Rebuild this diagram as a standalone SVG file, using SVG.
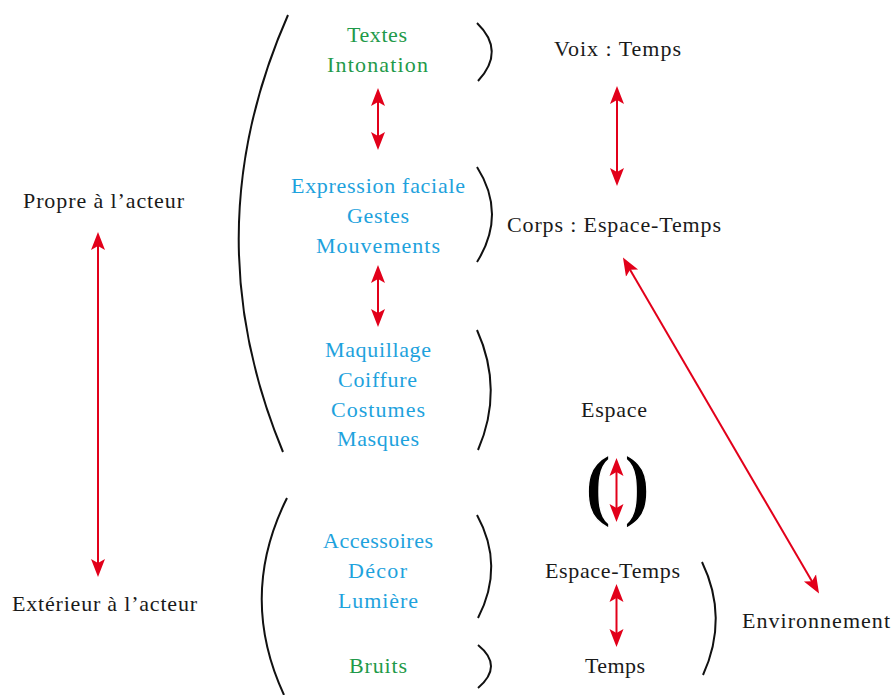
<svg xmlns="http://www.w3.org/2000/svg" width="893" height="695" viewBox="0 0 893 695">
<style>
text{font-family:"Liberation Serif","Times New Roman",serif;font-size:22px;text-anchor:middle;fill:#1a1a1a}
.g{fill:#1f9a4a}
.b{fill:#1ea2dd}
.br{fill:none;stroke:#111;stroke-width:2}
.ar{fill:none;stroke:#e2001a;stroke-width:2;marker-start:url(#ah);marker-end:url(#ah)}
.par{font-weight:bold;font-size:80px;fill:#000;stroke:#fff;stroke-width:1.2}
</style>
<defs>
<marker id="ah" markerUnits="userSpaceOnUse" markerWidth="20" markerHeight="16" viewBox="0 0 20 16" refX="10" refY="8" orient="auto-start-reverse">
<path d="M0,1 L18,8 L0,15 L4,8 z" fill="#e2001a"/>
</marker>
</defs>
<rect width="893" height="695" fill="#fff"/>

<g id="brackets">
<path class="br" d="M288,15 Q192,233 283,452"/>
<path class="br" d="M287,498 Q238,596 284,695"/>
<path class="br" d="M477,23 Q506,51 478,81"/>
<path class="br" d="M477,167 Q507,214 477,262"/>
<path class="br" d="M477,330 Q504,390 478,450"/>
<path class="br" d="M477,515 Q505,566 478,618"/>
<path class="br" d="M478,645 Q504,666 478,688"/>
<path class="br" d="M702,562 Q729,618 703,675"/>
</g>

<g id="n-textes"><text class="g" x="377" y="42" textLength="60">Textes</text><text class="g" x="377.5" y="72" textLength="101">Intonation</text></g>
<g id="n-expression"><text class="b" x="378" y="193" textLength="174">Expression faciale</text><text class="b" x="378" y="223" textLength="62">Gestes</text><text class="b" x="378" y="253" textLength="124">Mouvements</text></g>
<g id="n-maquillage"><text class="b" x="378" y="357" textLength="106">Maquillage</text><text class="b" x="377.5" y="387" textLength="79">Coiffure</text><text class="b" x="378" y="417" textLength="94">Costumes</text><text class="b" x="378" y="446" textLength="82">Masques</text></g>
<g id="n-accessoires"><text class="b" x="378" y="548" textLength="110">Accessoires</text><text class="b" x="377.5" y="578" textLength="59">Décor</text><text class="b" x="378" y="608" textLength="80">Lumière</text></g>
<g id="n-bruits"><text class="g" x="378" y="673" textLength="58">Bruits</text></g>
<g id="n-voix"><text x="617.5" y="56" textLength="127">Voix : Temps</text></g>
<g id="n-corps"><text x="614" y="232" textLength="214">Corps : Espace-Temps</text></g>
<g id="n-propre"><text x="103.5" y="208" textLength="161">Propre à l’acteur</text></g>
<g id="n-exterieur"><text x="104.5" y="611" textLength="185">Extérieur à l’acteur</text></g>
<g id="n-espace"><text x="614" y="417" textLength="66">Espace</text></g>
<g id="n-espacetemps"><text x="612.5" y="578" textLength="135">Espace-Temps</text></g>
<g id="n-temps"><text x="615" y="673" textLength="60">Temps</text></g>
<g id="n-env"><text x="816" y="628" textLength="148">Environnement</text></g>
<g id="n-parens"><text class="par" x="598" y="511">(</text><text class="par" x="637" y="511">)</text></g>

<g id="connectors">
<line class="ar" x1="378" y1="96" x2="378" y2="142"/>
<line class="ar" x1="378" y1="273" x2="378" y2="319"/>
<line class="ar" x1="617" y1="94" x2="617" y2="178"/>
<line class="ar" x1="98" y1="240" x2="98" y2="569"/>
<line class="ar" x1="627" y1="264.5" x2="815" y2="586.5"/>
<line class="ar" x1="616.5" y1="466" x2="616.5" y2="514"/>
<line class="ar" x1="616.5" y1="592" x2="616.5" y2="639"/>
</g>
</svg>
